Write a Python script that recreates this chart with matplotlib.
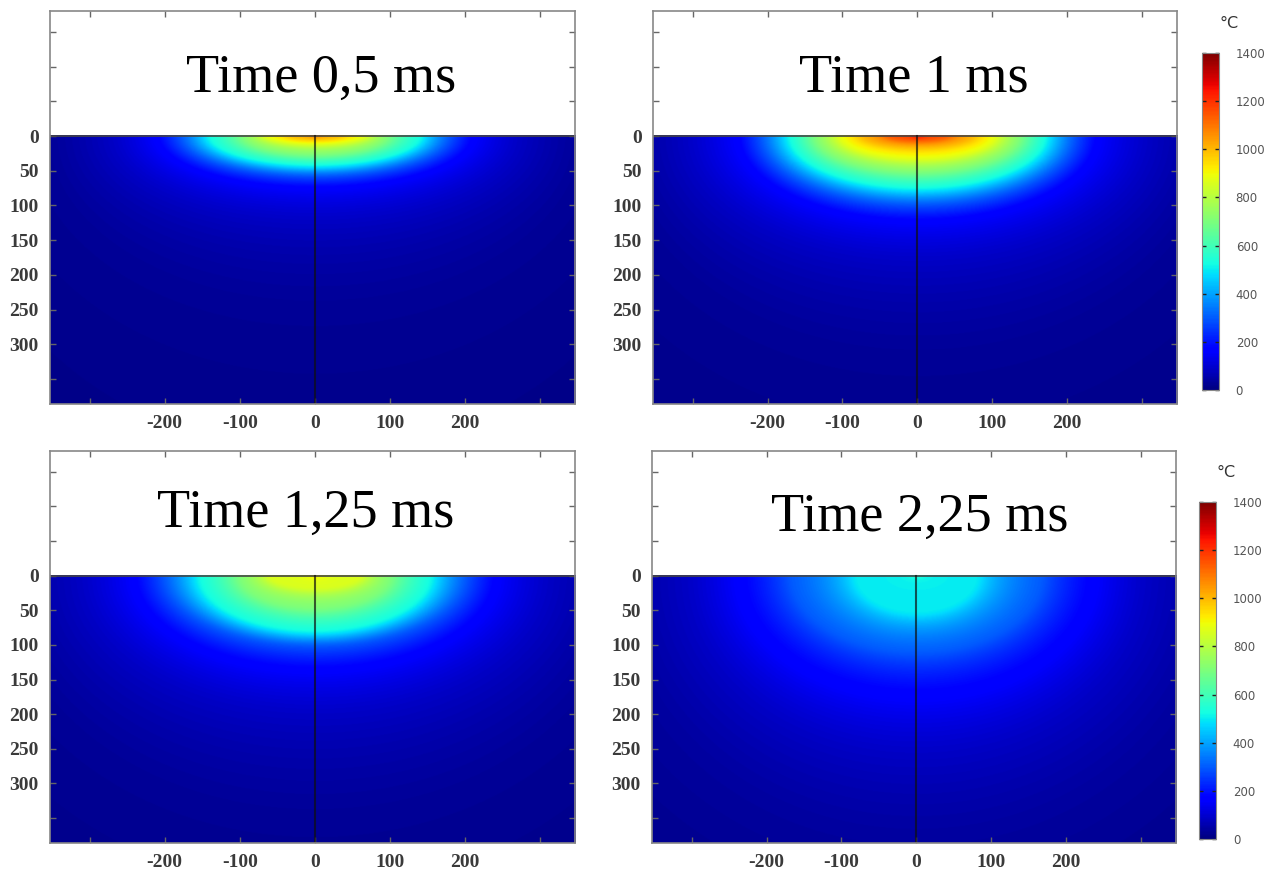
import numpy as np
import matplotlib.pyplot as plt

plt.rcParams['font.family'] = 'Liberation Serif'

titles = ['Time 0,5 ms', 'Time 1 ms', 'Time 1,25 ms', 'Time 2,25 ms']
title_x = [9, -5, -12, 4]
title_y = [-64, -64, -71, -64]

# isotherms for each snapshot: temperature (°C), half width along the surface
# and depth under the axis (µm); listed from the hot spot outwards
t05_temp = [1080, 1000, 880, 700, 520, 300, 160, 90, 30, 15]
t05_width = [5, 35, 67, 98, 142, 178, 213, 267, 360, 500]
t05_depth = [2, 6, 13, 29, 44, 58, 77, 119, 250, 500]

t1_temp = [1250, 1150, 1000, 880, 700, 520, 300, 160, 90, 30, 15]
t1_width = [5, 40, 75, 104, 138, 172, 208, 242, 304, 400, 560]
t1_depth = [2, 8, 18, 34, 54, 77, 99, 125, 177, 320, 560]

t125_temp = [930, 860, 700, 520, 300, 160, 90, 30, 15]
t125_width = [5, 62, 102, 155, 200, 244, 307, 420, 600]
t125_depth = [2, 20, 49, 82, 101, 139, 196, 350, 600]

t225_temp = [550, 500, 300, 160, 90, 40, 15]
t225_width = [5, 82, 168, 240, 302, 400, 600]
t225_depth = [2, 55, 112, 178, 252, 380, 600]

snapshots = [(t05_temp, t05_width, t05_depth),
             (t1_temp, t1_width, t1_depth),
             (t125_temp, t125_width, t125_depth),
             (t225_temp, t225_width, t225_depth)]

x_lo, x_hi = -353, 347
y_bot, y_top = 386, -180

xg = np.linspace(x_lo, x_hi, 701)
yg = np.linspace(0, y_bot, 387)
X, Y = np.meshgrid(xg, yg)


def smooth(T, n=9):
    # box blur along both axes to soften the joins between isotherms
    k = np.ones(n) / n
    Tp = np.pad(T, n, mode='edge')
    Tp = np.apply_along_axis(lambda r: np.convolve(r, k, mode='same'), 1, Tp)
    Tp = np.apply_along_axis(lambda c: np.convolve(c, k, mode='same'), 0, Tp)
    return Tp[n:-n, n:-n]


def temperature_map(temp, width, depth):
    # elliptic distance to every isotherm, then linear blend between neighbours
    rho = np.array([np.hypot(X / w, Y / d) for w, d in zip(width, depth)])
    T = np.full(X.shape, float(temp[-1]))
    T[rho[0] <= 1] = temp[0]
    for i in range(len(temp) - 1):
        sel = (rho[i] > 1) & (rho[i + 1] <= 1)
        frac = (rho[i][sel] - 1) / (rho[i][sel] - rho[i + 1][sel])
        T[sel] = temp[i] + (temp[i + 1] - temp[i]) * frac
    return smooth(T)


fig = plt.figure(figsize=(12.71, 8.77), dpi=100)
positions = [(0.0393, 0.5393, 0.4131, 0.4481),
             (0.5138, 0.5393, 0.4123, 0.4481),
             (0.0393, 0.0388, 0.4131, 0.4470),
             (0.5130, 0.0388, 0.4123, 0.4470)]

xticks = np.arange(-300, 301, 100)
xlabels = ['' if abs(v) > 200 else str(v) for v in xticks]
yticks = np.arange(-150, 351, 50)
ylabels = [str(v) if 0 <= v <= 300 else '' for v in yticks]

for k, pos in enumerate(positions):
    ax = fig.add_axes(pos)
    T = temperature_map(*snapshots[k])
    im = ax.imshow(T, extent=(x_lo, x_hi, y_bot, 0), cmap='jet', vmin=0, vmax=1400,
                   aspect='auto', interpolation='bilinear', origin='upper')
    ax.set_xlim(x_lo, x_hi)
    ax.set_ylim(y_bot, y_top)
    ax.axhline(0, color='#444444', lw=1.2)
    ax.plot([0, 0], [0, y_bot], color='#111111', lw=1.5, alpha=0.7)

    ax.set_xticks(xticks)
    ax.set_xticklabels(xlabels)
    ax.set_yticks(yticks)
    ax.set_yticklabels(ylabels)
    ax.tick_params(direction='in', top=True, right=True, length=4, width=1,
                   color='#666666', labelsize=14, labelcolor='#3a3a3a', pad=8)
    for lab in ax.get_xticklabels() + ax.get_yticklabels():
        lab.set_fontweight('bold')
    for sp in ax.spines.values():
        sp.set_color('#888888')
        sp.set_linewidth(1.2)

    ax.text(title_x[k], title_y[k], titles[k], fontsize=39, ha='center', va='baseline',
            color='black')

    if k in (1, 3):
        cpos = (0.9457, 0.5553, 0.0134, 0.3843) if k == 1 else (0.9434, 0.0433, 0.0134, 0.3843)
        cax = fig.add_axes(cpos)
        cb = fig.colorbar(im, cax=cax, ticks=np.arange(0, 1401, 200))
        cb.outline.set_edgecolor('#888888')
        cax.tick_params(direction='in', left=True, right=True, length=3, width=1,
                        color='#222222', labelsize=8.5, labelcolor='#555555', pad=12)
        for lab in cax.get_yticklabels():
            lab.set_fontfamily('DejaVu Sans')
        fig.text(cpos[0] + 0.0215, cpos[1] + cpos[3] + 0.025, '°C', fontsize=11.5,
                 family='DejaVu Sans', color='#333333', ha='center', va='bottom')

fig.savefig('out.png', dpi=100)
